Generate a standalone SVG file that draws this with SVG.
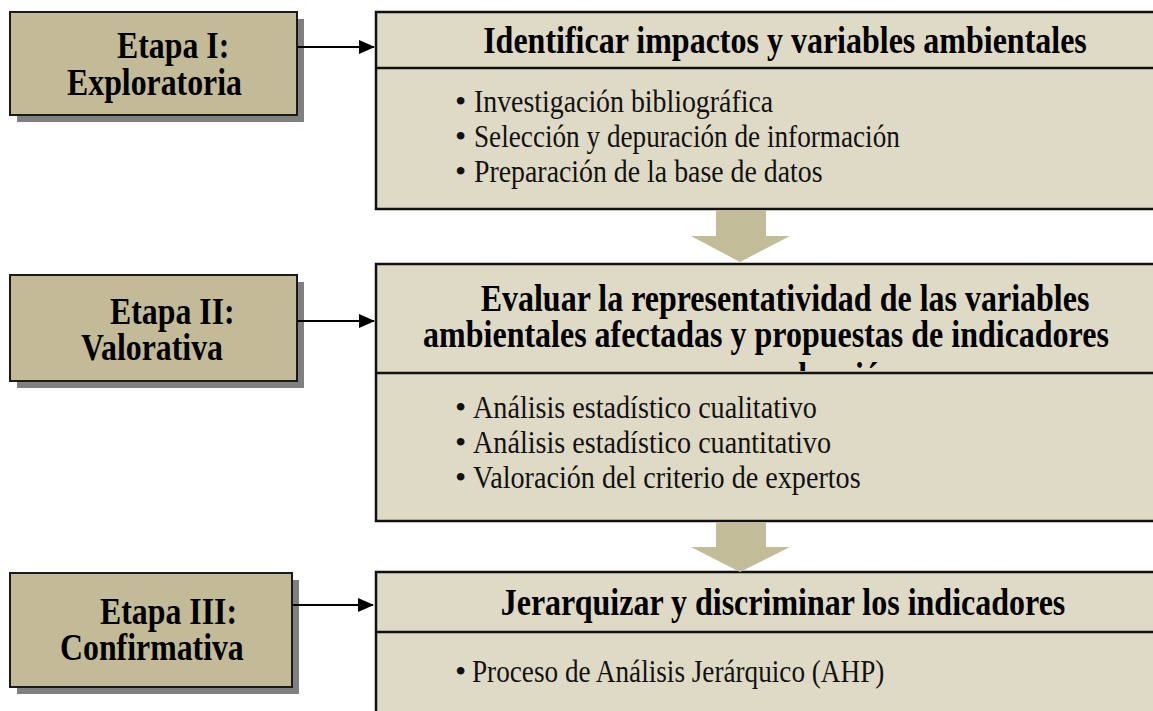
<svg xmlns="http://www.w3.org/2000/svg" width="1153" height="711" viewBox="0 0 1153 711">
<defs>
<style>
.stage{fill:#C3BB98;stroke:#1a1a1a;stroke-width:2}
.shadow{fill:#808080}
.box{fill:#DFDAC6;stroke:#111;stroke-width:2.5}
.sep{stroke:#111;stroke-width:2.5}
.lbl{font-family:"Liberation Serif","Times New Roman",serif;font-weight:bold;font-size:37px;fill:#000}
.blt{font-family:"Liberation Serif","Times New Roman",serif;font-size:32px;fill:#111}
.down{fill:#C3BC98}
.conn{stroke:#000;stroke-width:2;fill:none}
</style>
<marker id="ah" markerWidth="16" markerHeight="14" refX="15" refY="7" orient="auto" markerUnits="userSpaceOnUse">
<path d="M0,0 L16,7 L0,14 Z" fill="#000"/>
</marker>
<clipPath id="hdr2"><rect x="376" y="264" width="800" height="107"/></clipPath>
</defs>
<rect width="1153" height="711" fill="#fff"/>

<g id="stage1">
<rect class="shadow" x="17" y="19" width="287" height="103"/>
<rect class="stage" x="10" y="12" width="287" height="103"/>
<text class="lbl" transform="translate(117,57.5) scale(0.86,1)">Etapa I:</text>
<text class="lbl" transform="translate(67,95) scale(0.86,1)">Exploratoria</text>
</g>
<g id="stage2">
<rect class="shadow" x="17" y="282" width="287" height="106"/>
<rect class="stage" x="10" y="275" width="287" height="106"/>
<text class="lbl" transform="translate(110,324) scale(0.86,1)">Etapa II:</text>
<text class="lbl" transform="translate(81,360) scale(0.86,1)">Valorativa</text>
</g>
<g id="stage3">
<rect class="shadow" x="17" y="580" width="282" height="114"/>
<rect class="stage" x="10" y="573" width="282" height="114"/>
<text class="lbl" transform="translate(100,624) scale(0.86,1)">Etapa III:</text>
<text class="lbl" transform="translate(60,660) scale(0.86,1)">Confirmativa</text>
</g>

<g id="box1">
<rect class="box" x="376" y="12" width="820" height="197"/>
<line class="sep" x1="376" y1="68" x2="1196" y2="68"/>
<text class="lbl" text-anchor="middle" transform="translate(785,53) scale(0.865,1)">Identificar impactos y variables ambientales</text>
<text class="blt" x="455" y="112">•</text>
<text class="blt" transform="translate(474,112) scale(0.87,1)">Investigación bibliográfica</text>
<text class="blt" x="455" y="147">•</text>
<text class="blt" transform="translate(474,147) scale(0.85,1)">Selección y depuración de información</text>
<text class="blt" x="455" y="182">•</text>
<text class="blt" transform="translate(474,182) scale(0.87,1)">Preparación de la base de datos</text>
</g>

<g id="box2">
<rect class="box" x="376" y="264" width="820" height="257"/>
<g clip-path="url(#hdr2)">
<text class="lbl" text-anchor="middle" transform="translate(785,311) scale(0.865,1)">Evaluar la representatividad de las variables</text>
<text class="lbl" text-anchor="middle" transform="translate(766,347) scale(0.865,1)">ambientales afectadas y propuestas de indicadores</text>
<text class="lbl" transform="translate(752,389) scale(0.865,1)">evaluación</text>
</g>
<line class="sep" x1="376" y1="373" x2="1196" y2="373"/>
<text class="blt" x="455" y="418">•</text>
<text class="blt" transform="translate(473,418) scale(0.88,1)">Análisis estadístico cualitativo</text>
<text class="blt" x="455" y="453">•</text>
<text class="blt" transform="translate(473,453) scale(0.88,1)">Análisis estadístico cuantitativo</text>
<text class="blt" x="455" y="488">•</text>
<text class="blt" transform="translate(473,488) scale(0.88,1)">Valoración del criterio de expertos</text>
</g>

<g id="box3">
<rect class="box" x="376" y="572" width="820" height="200"/>
<line class="sep" x1="376" y1="632" x2="1196" y2="632"/>
<text class="lbl" text-anchor="middle" transform="translate(783,615) scale(0.865,1)">Jerarquizar y discriminar los indicadores</text>
<text class="blt" x="455" y="682">•</text>
<text class="blt" transform="translate(472,682) scale(0.85,1)">Proceso de Análisis Jerárquico (AHP)</text>
</g>

<g id="connectors">
<line class="conn" x1="297" y1="47" x2="374" y2="47" marker-end="url(#ah)"/>
<line class="conn" x1="297" y1="321" x2="374" y2="321" marker-end="url(#ah)"/>
<line class="conn" x1="292" y1="605" x2="373" y2="605" marker-end="url(#ah)"/>
<path class="down" d="M716,210 L766,210 L766,236 L790,236 L740,262 L691,236 L716,236 Z"/>
<path class="down" d="M716,522 L766,522 L766,547 L790,547 L740,572 L691,547 L716,547 Z"/>
</g>
</svg>
